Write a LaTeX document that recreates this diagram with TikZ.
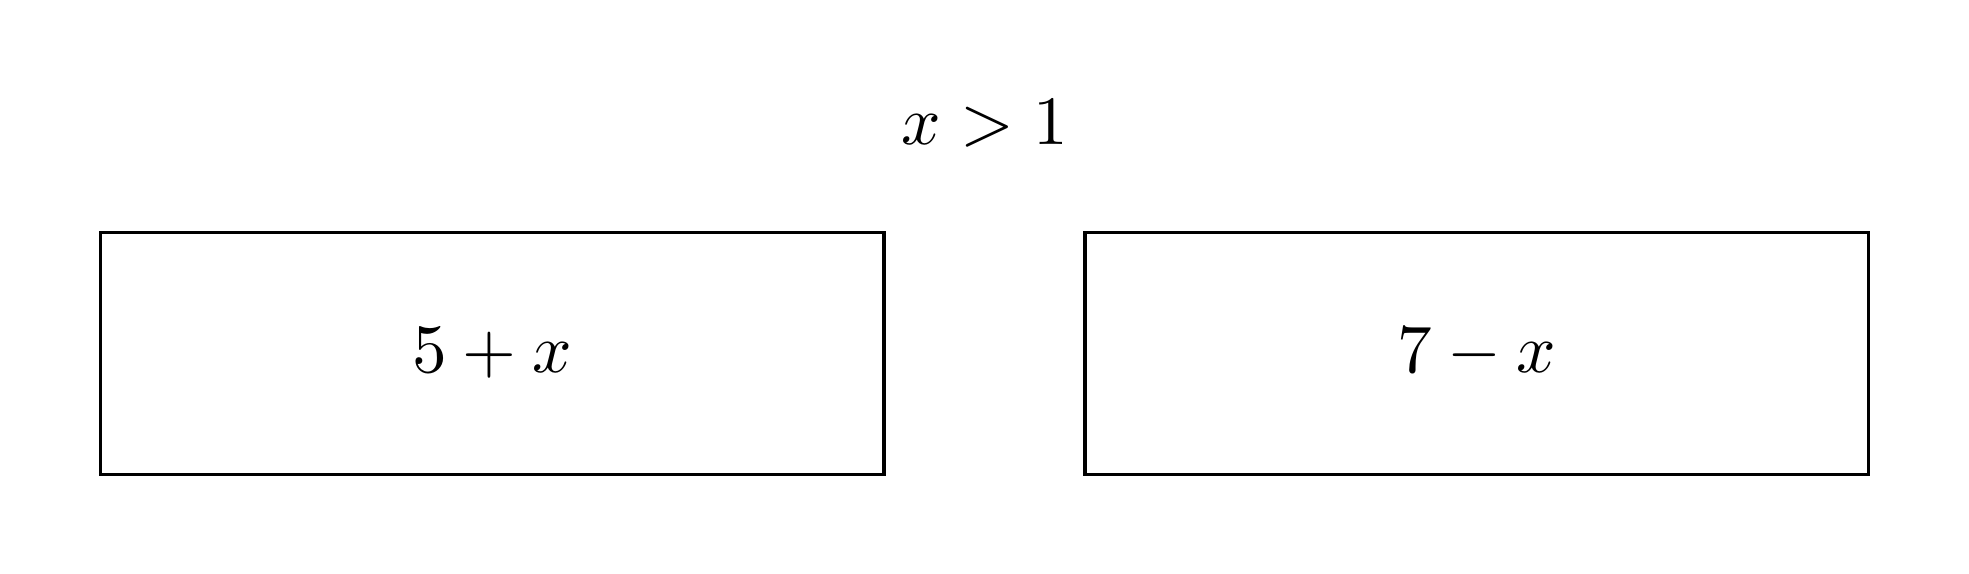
\documentclass[tikz,border=0pt]{standalone}
\begin{document}
\begin{tikzpicture}
\tikzset{exprbox/.style={draw, line width=0.5pt, minimum width=3.98cm, minimum height=1.23cm, inner sep=0pt}}
\useasboundingbox (0,0) rectangle (10,2.915);
\node[anchor=base] (cond) at (5,2.18) {$x>1$};
\node[exprbox] (left) at (2.5,1.12) {$5+x$};
\node[exprbox] (right) at (7.5,1.12) {$7-x$};
\end{tikzpicture}
\end{document}
